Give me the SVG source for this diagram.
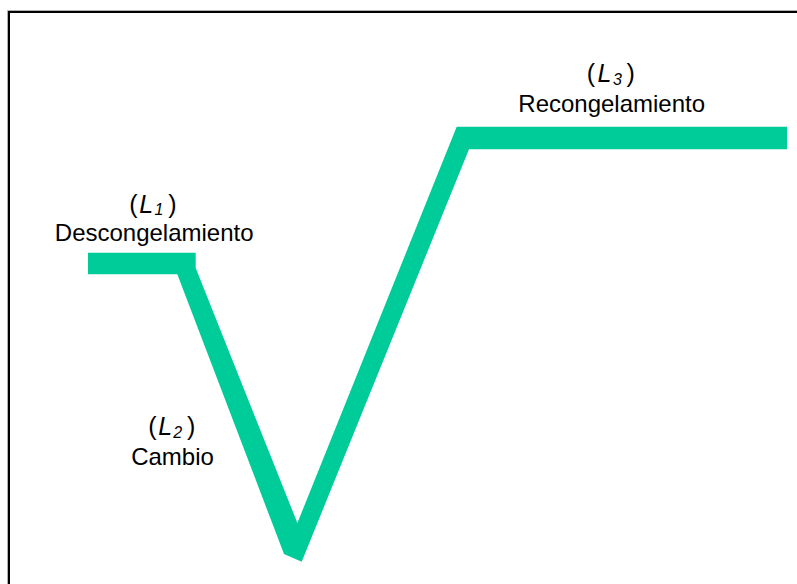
<svg xmlns="http://www.w3.org/2000/svg" width="797" height="584" viewBox="0 0 797 584">
<style>
.lbl{font-family:"Liberation Sans",Arial,sans-serif;font-size:24px;fill:#000;text-anchor:middle}
.var{font-family:"Liberation Sans",Arial,sans-serif;font-size:25px;fill:#000}
.it{font-style:italic}
.sub{font-style:italic;font-size:16px}
.curve{fill:#00CC99;stroke:none}
</style>
<rect width="797" height="584" fill="#fff"/>
<g id="frame" fill="none">
<path d="M7.5 584 V10.5 H797" stroke="#b0b0b0" stroke-width="1"/>
<path d="M9 584 V12 H797" stroke="#000" stroke-width="2"/>
</g>
<g id="connectors">
<polygon class="curve" points="88,252.7 195.7,252.7 195.7,268 297.4,523 456.7,126.7 787,126.7 787,149.3 469,149.3 301.7,561.7 284,554 177.3,274.3 88,274.3"/>
</g>
<g id="L1">
<text class="var" y="212.7"><tspan x="129.3">(</tspan><tspan class="it" x="139.3">L</tspan><tspan class="sub" x="154.5" y="214.5">1</tspan><tspan x="168.3" y="212.7">)</tspan></text>
<text class="lbl" x="154.2" y="240.7">Descongelamiento</text>
</g>
<g id="L2">
<text class="var" y="435"><tspan x="148.3">(</tspan><tspan class="it" x="158.3">L</tspan><tspan class="sub" x="173.3" y="438">2</tspan><tspan x="187" y="435">)</tspan></text>
<text class="lbl" x="172.5" y="465">Cambio</text>
</g>
<g id="L3">
<text class="var" y="81.7"><tspan x="586.7">(</tspan><tspan class="it" x="597.5">L</tspan><tspan class="sub" x="613" y="84.5">3</tspan><tspan x="626.5" y="81.7">)</tspan></text>
<text class="lbl" x="611.7" y="112.3">Recongelamiento</text>
</g>
</svg>
